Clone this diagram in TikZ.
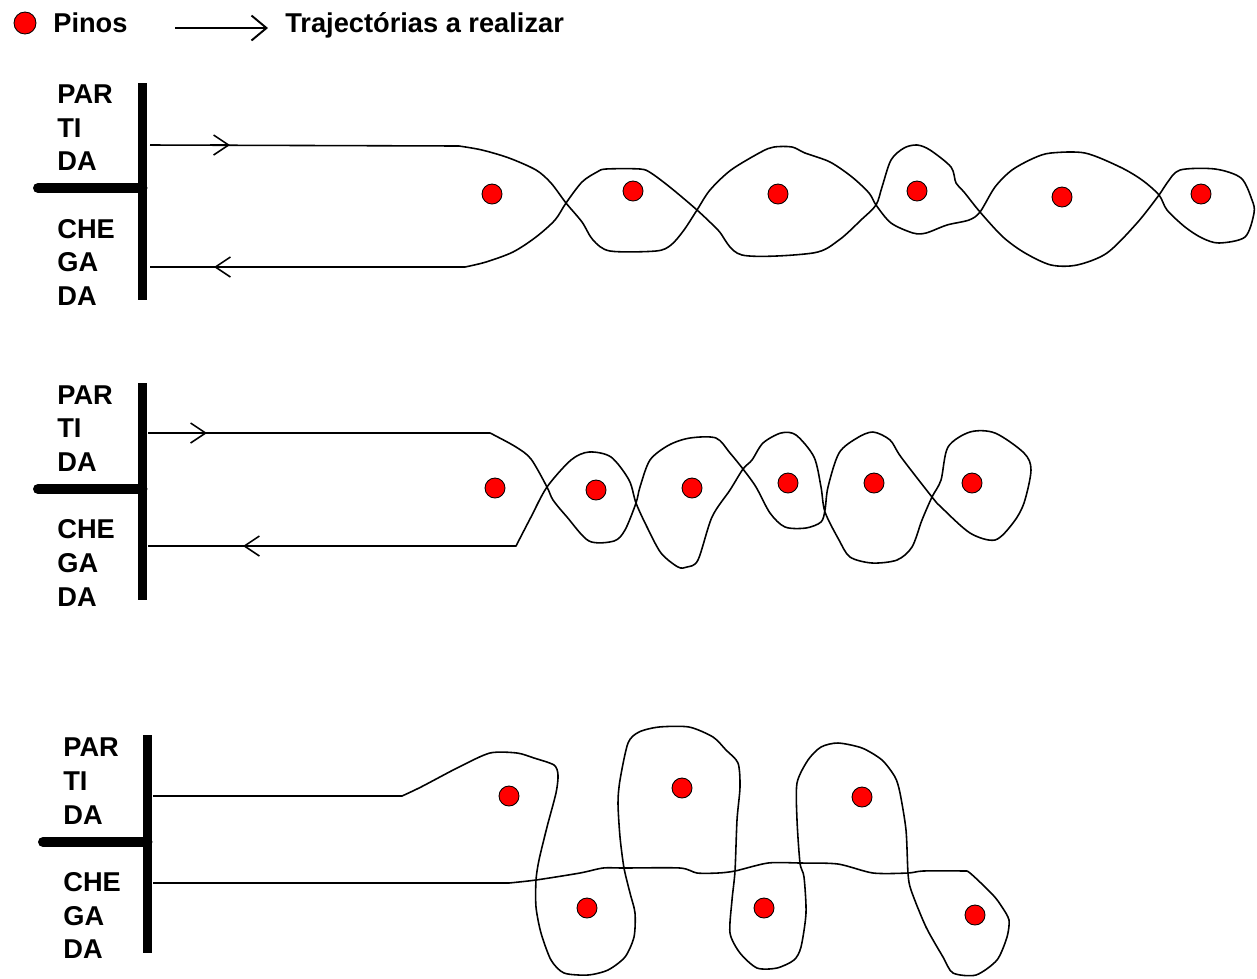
\documentclass[tikz,border=0pt]{standalone}
\usepackage{fontspec}
\setmainfont{Liberation Sans}
\usetikzlibrary{arrows.meta}
\tikzset{
  pin/.style={circle, draw=black, line width=0.5pt, fill=red, minimum size=0.4cm, inner sep=0pt},
  trail/.style={line width=0.9pt, line join=round},
  post/.style={line width=0.18cm},
  stub/.style={line width=0.2cm, line cap=round},
  lbl/.style={font=\fontsize{15.5}{18}\selectfont\bfseries, anchor=base west, inner sep=0pt},
  head/.style={trail, -{Straight Barb[length=0.3cm, width=0.4cm]}}
}
\begin{document}
\begin{tikzpicture}[x=0.02cm, y=-0.02cm]
\useasboundingbox (0,0) rectangle (1257,978);

% legend
\node[pin, minimum size=0.44cm] (legpin) at (25,23) {};
\node[lbl] (legpintxt) at (53,32) {Pinos};
\coordinate (legA) at (175,28);
\coordinate (legB) at (268,28);
\draw[trail, line width=1.1pt, -{Straight Barb[length=0.3cm, width=0.5cm]}] (legA) -- (legB);
\node[lbl] (legtrail) at (285,32) {Trajectórias a realizar};

% ---------- course 1 ----------
\draw[post] (142.5,83) -- (142.5,300);
\draw[stub] (38,188) -- (142.5,188);
\node[lbl] (a1) at (57,103.5) {PAR};
\node[lbl] (a2) at (57,137) {TI};
\node[lbl] (a3) at (57,170.5) {DA};
\node[lbl] (a4) at (57,238) {CHE};
\node[lbl] (a5) at (57,271.5) {GA};
\node[lbl] (a6) at (57,305) {DA};
\foreach \n/\x/\y in {1/492/194, 2/633/191, 3/778/194, 4/917/191, 5/1062/197, 6/1201/194}
  \node[pin] (pa\n) at (\x,\y) {};
\draw[trail] (150,145) -- plot[smooth, tension=0.5] coordinates {
  (459,146) (482,150) (509,158) (536,170) (551,183) (566,203) (582,222)
  (593,240) (610,251) (656,251) (671,245) (684,230) (697,210) (710,190)
  (731,170) (761,152) (774,147) (792,147) (805,153) (830,162) (852,177)
  (869,193) (876,205) (891,223) (913,233) (926,233) (947,225) (969,220)
  (980,212) (995,187) (1012,170) (1034,158) (1051,153) (1085,153) (1120,167)
  (1142,180) (1159,195) (1167,210) (1185,227) (1202,238) (1219,243) (1245,237)
  (1254,213) (1252,200) (1241,178) (1215,169) (1180,170) (1167,183) (1159,195)
  (1137,223) (1107,253) (1077,265) (1051,265) (1025,253) (1003,237) (980,212)
  (964,192) (956,183) (951,167) (930,150) (917,145) (904,148) (891,160)
  (882,187) (876,205) (861,220) (839,240) (813,253) (742,255) (718,230)
  (697,210) (671,188) (651,173) (640,169) (606,169) (597,172) (582,182)
  (566,203) (555,220) (536,237) (513,252) (486,262) (465,267)} -- (150,267);
\draw[head] (210,145) -- (230,145);
\draw[head] (234,267) -- (214,267);

% ---------- course 2 ----------
\draw[post] (142.5,383) -- (142.5,600);
\draw[stub] (38,489) -- (142.5,489);
\node[lbl] (b1) at (57,404.5) {PAR};
\node[lbl] (b2) at (57,437.5) {TI};
\node[lbl] (b3) at (57,471.5) {DA};
\node[lbl] (b4) at (57,538.5) {CHE};
\node[lbl] (b5) at (57,572.5) {GA};
\node[lbl] (b6) at (57,606.5) {DA};
\foreach \n/\x/\y in {1/495/488, 2/596/490, 3/692/488, 4/788/483, 5/874/483, 6/972/483}
  \node[pin] (pb\n) at (\x,\y) {};
\draw[trail] (148,433) -- plot[smooth, tension=0.5] coordinates {
  (490,433) (494,435) (516,447) (531,459) (547,487) (553,500) (567,517)
  (589,541) (614,541) (625,530) (636,503) (640,487) (650,460) (669,445)
  (690,438) (716,438) (730,453) (743,469) (756,487) (770,513) (785,527)
  (806,528) (821,522) (825,510) (828,487) (839,453) (857,438) (873,432)
  (890,440) (901,457) (932,497) (941,507) (970,533) (995,540) (1013,523)
  (1024,503) (1031,470) (1024,453) (995,433) (970,432) (948,447) (941,480)
  (932,497) (922,520) (912,547) (897,560) (872,563) (850,557) (839,540)
  (825,512) (821,487) (814,457) (796,435) (781,433) (763,443) (752,460)
  (743,469) (730,490) (712,517) (698,560) (687,567) (678,567) (661,553)
  (647,527) (636,503) (629,480) (611,457) (589,452) (571,460) (547,487)
  (531,517) (516,546)} -- (148,546);
\draw[head] (189,433) -- (207,433);
\draw[head] (259,546) -- (243,546);

% ---------- course 3 ----------
\draw[post] (147.5,735) -- (147.5,953);
\draw[stub] (43,842) -- (147.5,842);
\node[lbl] (c1) at (63,756.5) {PAR};
\node[lbl] (c2) at (63,790.5) {TI};
\node[lbl] (c3) at (63,824.5) {DA};
\node[lbl] (c4) at (63,891.5) {CHE};
\node[lbl] (c5) at (63,925.5) {GA};
\node[lbl] (c6) at (63,958.5) {DA};
\foreach \n/\x/\y in {1/509/796, 2/682/788, 3/862/797, 4/587/908, 5/764/908, 6/975/915}
  \node[pin] (pc\n) at (\x,\y) {};
\draw[trail] (153,796) -- plot[smooth, tension=0.45] coordinates {
  (402,796) (421,787) (459,767) (490,753) (517,753) (534,758) (554,765)
  (558,775) (556,793) (547,827) (539,860) (536,880) (536,907) (541,933)
  (551,960) (564,973) (588,975) (608,970) (625,957) (634,937) (635,913)
  (630,893) (624,868) (620,837) (618,803) (620,780) (628,743) (639,732)
  (659,727) (689,727) (713,737) (726,750) (738,763) (740,787) (737,820)
  (735,871) (732,900) (730,933) (740,953) (757,968) (777,968) (794,960)
  (801,947) (806,913) (804,877) (800,863) (797,820) (797,783) (808,760)
  (821,747) (838,743) (862,748) (882,760) (895,777) (900,793) (906,830)
  (908,873) (911,890) (926,927) (943,957) (953,973) (976,975) (997,960)
  (1007,937) (1009,920) (1002,907) (993,895) (970,873) (962,871) (923,871)
  (908,873) (873,873) (838,864) (800,863) (768,863) (735,871) (718,873)
  (697,873) (680,868) (624,868) (603,868) (580,873) (536,880) (509,883)}
  -- (153,883);
\end{tikzpicture}
\end{document}
